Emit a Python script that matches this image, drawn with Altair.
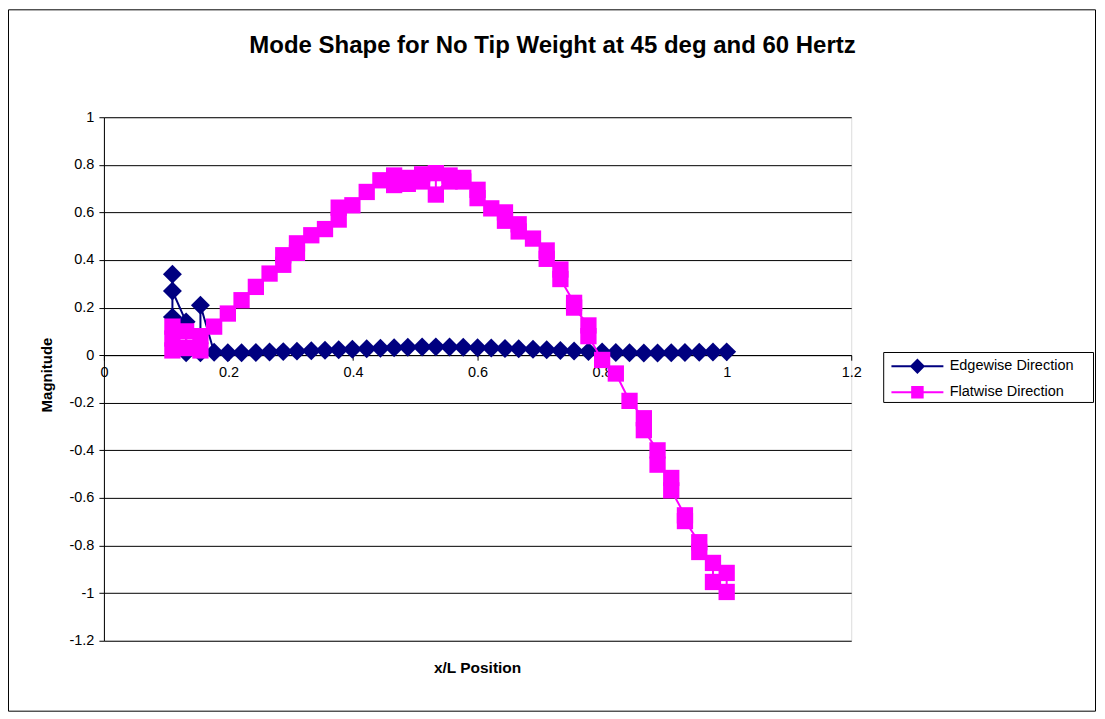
import altair as alt
import pandas as pd

FONT = "Liberation Sans"

# ---- data ----
edge_x = [0.110, 0.110, 0.110, 0.132, 0.132, 0.155, 0.155, 0.177, 0.199, 0.221,
          0.244, 0.266, 0.288, 0.310, 0.333, 0.355, 0.377, 0.399, 0.422, 0.444,
          0.466, 0.488, 0.511, 0.533, 0.555, 0.577, 0.600, 0.622, 0.644, 0.666,
          0.689, 0.711, 0.733, 0.755, 0.778, 0.800, 0.822, 0.844, 0.867, 0.889,
          0.911, 0.933, 0.956, 0.978, 1.000]
edge_y = [0.16, 0.34, 0.27, 0.14, 0.01, 0.01, 0.21, 0.012, 0.010, 0.010,
          0.011, 0.013, 0.015, 0.017, 0.019, 0.021, 0.023, 0.025, 0.027, 0.029,
          0.031, 0.033, 0.034, 0.035, 0.034, 0.033, 0.031, 0.030, 0.028, 0.027,
          0.025, 0.023, 0.020, 0.018, 0.015, 0.013, 0.011, 0.010, 0.009, 0.009,
          0.010, 0.011, 0.012, 0.013, 0.014]

flat_x = [0.110, 0.110, 0.110, 0.132, 0.132, 0.155, 0.155, 0.177, 0.199, 0.221,
          0.244, 0.266, 0.288, 0.288, 0.310, 0.310, 0.333, 0.355, 0.377, 0.377,
          0.399, 0.422, 0.444, 0.466, 0.466, 0.488, 0.488, 0.511, 0.511, 0.533,
          0.533, 0.555, 0.555, 0.577, 0.577, 0.600, 0.600, 0.622, 0.644, 0.644,
          0.666, 0.666, 0.689, 0.711, 0.711, 0.733, 0.733, 0.755, 0.755, 0.778,
          0.778, 0.800, 0.822, 0.844, 0.867, 0.867, 0.889, 0.889, 0.911, 0.911,
          0.933, 0.933, 0.956, 0.956, 0.978, 0.978, 1.000, 1.000]
flat_y = [0.02, 0.12, 0.07, 0.10, 0.03, 0.02, 0.08, 0.12, 0.175, 0.231,
          0.287, 0.343, 0.38, 0.42, 0.43, 0.47, 0.504, 0.53, 0.57, 0.62,
          0.63, 0.686, 0.735, 0.715, 0.755, 0.72, 0.745, 0.73, 0.76, 0.765,
          0.675, 0.755, 0.73, 0.745, 0.73, 0.695, 0.66, 0.617, 0.60, 0.565,
          0.55, 0.52, 0.49, 0.44, 0.405, 0.36, 0.32, 0.22, 0.20, 0.125,
          0.08, -0.02, -0.077, -0.192, -0.265, -0.315, -0.40, -0.46, -0.516, -0.568,
          -0.673, -0.697, -0.786, -0.827, -0.873, -0.953, -0.915, -0.995]

series_names = ["Edgewise Direction", "Flatwise Direction"]
series_colors = ["#000080", "#FF00FF"]
y_ticks = [1, 0.8, 0.6, 0.4, 0.2, 0, -0.2, -0.4, -0.6, -0.8, -1, -1.2]
x_ticks = [0, 0.2, 0.4, 0.6, 0.8, 1, 1.2]

title_text = "Mode Shape for No Tip Weight at 45 deg and 60 Hertz"
x_title = "x/L Position"
y_title = "Magnitude"

W, H = 748, 524
Y0 = H * 1.0 / 2.2  # pixel row of y = 0 from the top
LBL = 14.5

edge_df = pd.DataFrame({"series": series_names[0], "x": edge_x, "y": edge_y,
                        "idx": list(range(len(edge_x)))})
flat_df = pd.DataFrame({"series": series_names[1], "x": flat_x, "y": flat_y,
                        "idx": list(range(len(flat_x)))})

x_enc = alt.X("x:Q", scale=alt.Scale(domain=[0, 1.2], nice=False, zero=False),
              axis=alt.Axis(values=x_ticks, title=None, grid=False, offset=-(H - Y0),
                            domainColor="black", tickColor="black", tickSize=5,
                            labelFont=FONT, labelFontSize=LBL, labelColor="black",
                            labelPadding=5, labelFlush=False, labelOverlap=False,
                            labelExpr="'' + datum.value"))
y_enc = alt.Y("y:Q", scale=alt.Scale(domain=[-1.2, 1], nice=False, zero=False),
              axis=alt.Axis(values=y_ticks, title=None, grid=True, gridColor="black",
                            gridWidth=1, domainColor="black", tickColor="black", tickSize=5,
                            labelFont=FONT, labelFontSize=LBL, labelColor="black",
                            labelPadding=5, labelOverlap=False,
                            labelExpr="'' + datum.value"))

edge_sym = "M-5.2,0H5.2M0,-1.25L1.25,0L0,1.25L-1.25,0Z"
flat_sym = "M-5.2,0H5.2M-1.05,-1.05H1.05V1.05H-1.05Z"


def series_layer(df, name, col, shape, size, sym, ly):
    leg = alt.Legend(title=None, orient="none", legendX=807, legendY=ly, padding=0,
                     symbolType=sym, symbolSize=100, symbolOffset=0, labelOffset=25,
                     symbolFillColor=col, symbolStrokeColor=col, symbolStrokeWidth=2,
                     symbolOpacity=1, labelFont=FONT, labelFontSize=LBL, labelColor="black")
    color = alt.Color("series:N", scale=alt.Scale(domain=[name], range=[col]), legend=leg)
    b = alt.Chart(df)
    ln = b.mark_line(strokeWidth=2).encode(x=x_enc, y=y_enc, color=color,
                                           order=alt.Order("idx:Q"))
    pt = b.mark_point(filled=True, opacity=1, strokeWidth=0, shape=shape, size=size).encode(
        x=x_enc, y=y_enc, color=color)
    return alt.layer(ln, pt)


edge_layer = series_layer(edge_df, series_names[0], series_colors[0], "diamond", 360, edge_sym, 242)
flat_layer = series_layer(flat_df, series_names[1], series_colors[1], "square", 266, flat_sym, 268)

one = pd.DataFrame({"a": [0]})
frame = alt.Chart(one).mark_rect(filled=False, stroke="black", strokeWidth=1).encode(
    x=alt.value(-95.5), x2=alt.value(992.5), y=alt.value(-107.5), y2=alt.value(594.5))
legend_box = alt.Chart(one).mark_rect(fill="white", stroke="black", strokeWidth=1).encode(
    x=alt.value(780.5), x2=alt.value(990.5), y=alt.value(235.5), y2=alt.value(285.5))

title_mark = alt.Chart(pd.DataFrame({"t": [title_text]})).mark_text(
    font=FONT, fontSize=24, fontWeight="bold", color="black",
    align="center", baseline="middle").encode(text="t:N", x=alt.value(449), y=alt.value(-71.5))
xt = alt.Chart(pd.DataFrame({"t": [x_title]})).mark_text(
    font=FONT, fontSize=15.5, fontWeight="bold", color="black", align="center", baseline="middle").encode(
    text="t:N", x=alt.value(W / 2), y=alt.value(551))
yt = alt.Chart(pd.DataFrame({"t": [y_title]})).mark_text(
    font=FONT, fontSize=15, fontWeight="bold", color="black", align="center", baseline="middle",
    angle=270).encode(text="t:N", x=alt.value(-57), y=alt.value(258))

chart = alt.layer(frame, legend_box, edge_layer, flat_layer, title_mark, xt, yt).resolve_scale(
    color="independent"
).properties(
    width=W, height=H,
    autosize=alt.AutoSizeParams(type="none"),
    padding={"left": 96, "top": 109, "right": 246, "bottom": 72},
).configure_view(stroke="#808080", strokeWidth=2).configure(background="white")

chart.save("out.html", embed_options={"renderer": "svg", "actions": False})
